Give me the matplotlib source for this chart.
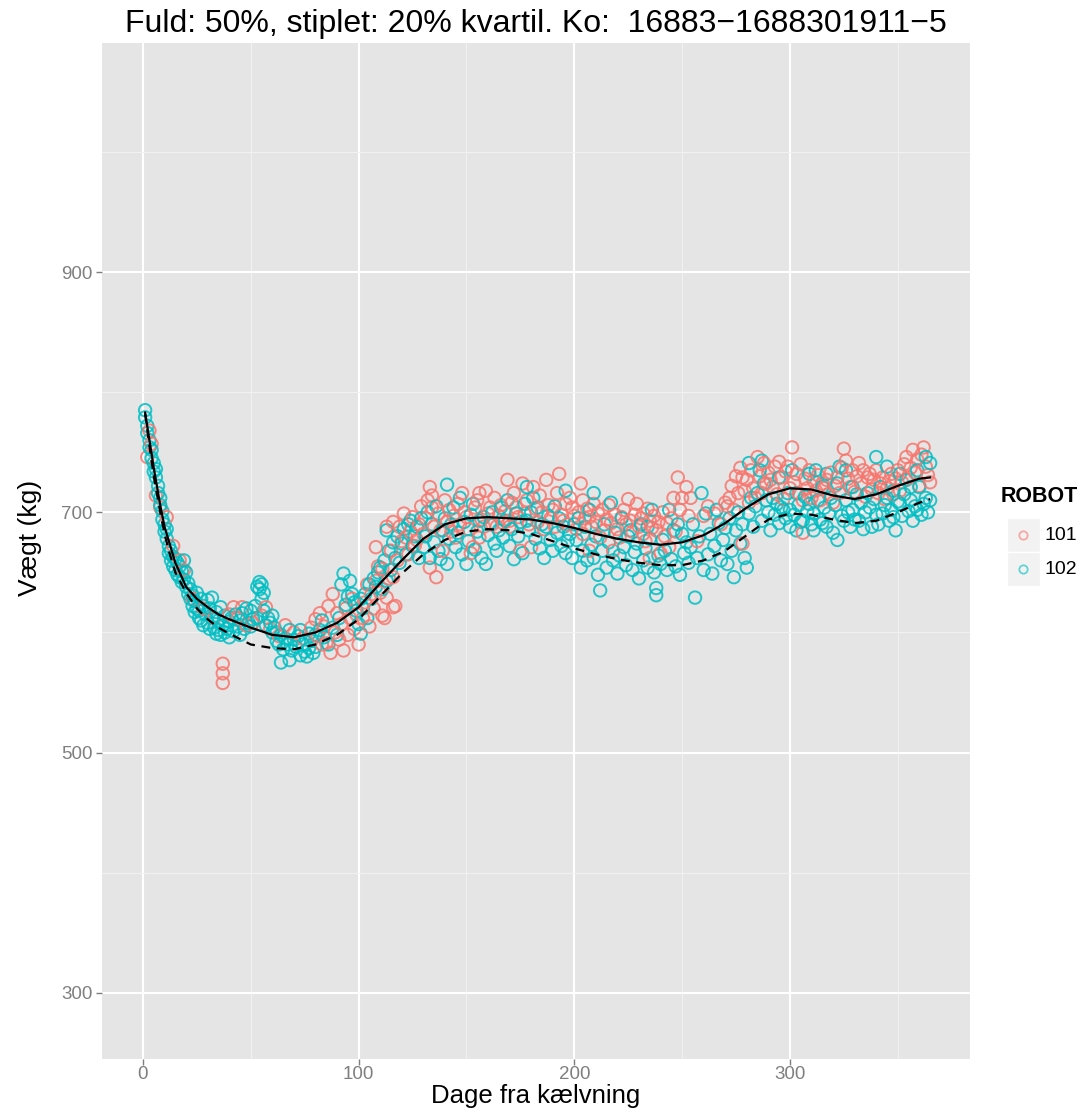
import numpy as np
import matplotlib
matplotlib.use("Agg")
import matplotlib.pyplot as plt
from matplotlib.patches import Rectangle
from matplotlib.lines import Line2D

plt.rcParams['font.family'] = ['Liberation Sans', 'DejaVu Sans']

# weighings per robot: (days from calving, weight kg)
robot101 = [
    (2, 746), (3, 768), (4, 757), (6, 714), (8, 704), (11, 696), (14, 672), (17, 660), (19, 652),
    (23, 628), (28, 620), (33, 612), (37, 574), (37, 566), (37, 558), (40, 615), (42, 621), (44, 612),
    (46, 621), (48, 606), (51, 608), (55, 614), (57, 621), (59, 603),
    (63, 597), (66, 606), (70, 600), (74, 595), (78, 604), (80, 611), (81, 597), (82, 616), (83, 590),
    (84, 605), (85, 591), (86, 622), (87, 583), (88, 632), (89, 600), (90, 616), (91, 594), (92, 607),
    (93, 585), (94, 620), (95, 598), (96, 612), (97, 628), (98, 603), (99, 615), (100, 590),
    (102, 612), (103, 625), (104, 640), (105, 605), (106, 632), (107, 620), (108, 671), (108, 643),
    (109, 655), (110, 633), (111, 614), (111, 653), (112, 612), (113, 629), (113, 688), (114, 645),
    (115, 668), (116, 621), (116, 646), (116, 692), (117, 622), (118, 660), (119, 688), (120, 676),
    (121, 699), (122, 679), (123, 665), (124, 684), (125, 696), (126, 672), (127, 677), (128, 690),
    (129, 705), (130, 682),
    (131, 695), (132, 710), (133, 721), (133, 654), (134, 714), (134, 704), (135, 688), (136, 646),
    (137, 699), (138, 685), (139, 668), (140, 710), (141, 692), (142, 702), (143, 684), (144, 697),
    (145, 679), (146, 707), (147, 690), (148, 716), (149, 700), (150, 696), (151, 686), (152, 666),
    (153, 671), (154, 704), (155, 710), (156, 716), (156, 679), (157, 694), (158, 688), (159, 718),
    (160, 699), (161, 704), (162, 690), (163, 712), (164, 688), (165, 697), (166, 706), (167, 691),
    (168, 701), (169, 727), (170, 688), (170, 693), (171, 708), (172, 716), (173, 704), (174, 696),
    (175, 668), (176, 724), (177, 699), (178, 710), (179, 690), (180, 671), (181, 721), (182, 703),
    (183, 692), (184, 714), (185, 700), (186, 686), (187, 727), (188, 706), (189, 695), (190, 702),
    (191, 688), (192, 716), (193, 732), (194, 698), (195, 693), (196, 707), (197, 690), (198, 712),
    (199, 704), (200, 697),
    (201, 686), (202, 700), (203, 724), (204, 710), (204, 682), (205, 695), (206, 703), (207, 696),
    (207, 668), (208, 688), (209, 707), (210, 692), (211, 699), (212, 679), (213, 702), (214, 685),
    (215, 694), (216, 706), (217, 691), (218, 668), (219, 698), (220, 686), (221, 679), (222, 696),
    (223, 702), (224, 690), (225, 711), (226, 693), (227, 684), (228, 698), (229, 707), (230, 688),
    (231, 695), (232, 699), (232, 682), (233, 676), (234, 703), (235, 693), (235, 662), (236, 687),
    (237, 697), (238, 685), (239, 692), (240, 666), (241, 700), (242, 680), (243, 691), (244, 671),
    (245, 695), (246, 712), (247, 684), (248, 729), (249, 702), (250, 712), (252, 721), (253, 697),
    (254, 712), (257, 676), (260, 697), (262, 705), (265, 699), (268, 690), (270, 708),
    (271, 705), (272, 712), (273, 722), (274, 702), (275, 730), (276, 716), (277, 737), (278, 729),
    (278, 674), (279, 718), (280, 727), (281, 708), (282, 735), (283, 720), (284, 712), (285, 746),
    (286, 730), (287, 716), (288, 741), (289, 724), (290, 733), (291, 727), (292, 721), (293, 738),
    (294, 715), (295, 742), (296, 729), (297, 711), (298, 734), (299, 738), (300, 720),
    (301, 754), (302, 725), (303, 732), (304, 716), (305, 740), (306, 710), (306, 683), (307, 728),
    (308, 720), (309, 735), (310, 712), (311, 726), (312, 718), (313, 731), (314, 710), (315, 724),
    (316, 720), (317, 727), (318, 715), (319, 733), (320, 708), (321, 722), (322, 729), (323, 716),
    (324, 737), (325, 753), (326, 743), (327, 728), (328, 721), (329, 735), (330, 717), (331, 730),
    (332, 741), (333, 724), (334, 735), (335, 713), (336, 729), (337, 732), (338, 719), (339, 727),
    (340, 735), (341, 716), (342, 724), (343, 729), (344, 711), (345, 720), (346, 726), (347, 732),
    (348, 715), (349, 728), (350, 735), (351, 718), (352, 725), (353, 740), (354, 746), (355, 729),
    (356, 737), (357, 752), (358, 733), (359, 744), (360, 722), (361, 748), (362, 754), (363, 738),
    (364, 731), (365, 725),
]

robot102 = [
    (1, 785), (1, 779), (2, 772), (2, 766), (3, 760), (3, 754), (4, 752), (4, 745), (5, 741), (5, 734),
    (6, 729), (6, 736), (7, 722), (7, 716), (8, 712), (8, 706), (9, 701), (9, 694), (10, 690), (10, 684),
    (11, 686), (11, 678), (12, 672), (12, 666), (13, 668), (13, 660), (14, 663), (14, 655), (15, 661),
    (15, 652), (16, 658), (16, 648), (17, 655), (17, 646), (18, 651), (18, 642), (19, 660), (19, 644),
    (20, 650), (20, 638),
    (21, 641), (21, 632), (22, 636), (22, 628), (23, 631), (23, 622), (24, 626), (24, 617), (25, 633),
    (25, 620), (26, 618), (26, 612), (27, 628), (27, 610), (28, 622), (28, 606), (29, 615), (30, 627),
    (30, 608), (31, 620), (31, 603), (32, 629), (32, 612), (33, 604), (34, 617), (34, 599), (35, 610),
    (35, 602), (36, 621), (36, 598), (37, 606), (38, 614), (38, 600), (39, 603), (40, 596), (40, 609),
    (41, 612), (42, 601), (43, 615), (44, 605), (45, 610), (45, 598), (46, 616), (47, 603), (48, 620),
    (49, 608), (50, 618), (50, 605),
    (51, 611), (52, 622), (53, 638), (53, 612), (54, 642), (54, 636), (55, 640), (55, 628), (56, 633),
    (56, 618), (57, 606), (58, 612), (59, 608), (60, 600), (60, 614),
    (61, 604), (62, 600), (62, 593), (63, 590), (64, 575), (64, 598), (65, 586), (66, 595), (67, 590),
    (68, 577), (68, 602), (69, 585), (70, 594), (71, 588), (72, 597), (73, 602), (73, 581), (74, 590),
    (75, 584), (76, 580), (77, 599), (77, 587), (78, 593), (79, 583), (80, 598), (80, 588),
    (82, 602), (83, 610), (84, 596), (86, 590), (88, 604), (90, 598), (91, 612), (92, 640), (93, 649),
    (94, 623), (95, 630), (96, 643), (97, 632), (98, 625), (99, 618), (100, 607), (101, 599), (101, 628),
    (102, 620), (103, 632), (104, 612), (105, 640), (106, 628), (107, 645), (108, 638), (109, 650),
    (110, 654), (111, 636), (112, 660), (113, 643), (113, 685), (114, 668), (115, 652), (116, 675),
    (117, 662), (118, 680), (119, 658), (120, 674), (121, 686), (122, 665), (123, 690), (124, 693),
    (125, 672), (126, 680), (127, 688), (128, 662), (129, 695), (130, 671),
    (131, 680), (132, 700), (133, 662), (134, 690), (135, 675), (136, 705), (137, 668), (138, 661),
    (139, 685), (140, 695), (141, 657), (141, 723), (142, 678), (143, 690), (144, 704), (145, 671),
    (146, 683), (147, 712), (148, 665), (149, 692), (150, 657), (151, 676), (152, 698), (153, 707),
    (154, 669), (155, 684), (156, 693), (157, 662), (158, 696), (159, 657), (160, 681), (161, 690),
    (162, 700), (163, 674), (164, 668), (165, 685), (166, 704), (167, 679), (168, 693), (169, 710),
    (170, 672), (171, 686), (172, 661), (173, 699), (174, 680), (175, 692), (176, 666), (177, 707),
    (178, 721), (178, 693), (179, 685), (180, 700), (181, 712), (182, 678), (183, 704), (184, 670),
    (185, 690), (186, 662), (187, 688), (188, 697), (189, 677), (190, 668), (191, 705), (192, 683),
    (193, 695), (194, 672), (195, 688), (196, 718), (196, 666), (197, 676), (198, 682), (199, 662),
    (200, 690),
    (201, 677), (202, 695), (203, 654), (204, 668), (205, 688), (206, 660), (207, 702), (208, 673),
    (209, 716), (209, 662), (210, 680), (211, 648), (212, 635), (213, 668), (214, 690), (215, 654),
    (216, 675), (217, 708), (218, 660), (219, 683), (220, 649), (221, 664), (222, 695), (223, 671),
    (224, 656), (225, 680), (226, 685), (227, 652), (228, 667), (229, 674), (230, 645), (231, 690),
    (232, 660), (233, 670), (234, 654), (234, 688), (235, 678), (236, 702), (237, 650), (238, 637),
    (238, 631), (239, 664), (240, 657),
    (241, 677), (242, 668), (243, 652), (244, 702), (245, 661), (246, 685), (247, 655), (248, 690),
    (249, 648), (250, 682), (251, 666), (252, 675), (253, 658), (254, 671), (255, 690), (256, 629),
    (257, 662), (258, 680), (259, 716), (260, 652), (261, 699), (262, 665), (263, 682), (264, 649),
    (265, 672), (266, 702), (267, 691), (268, 660), (269, 677), (270, 687), (271, 657), (272, 695),
    (273, 668), (274, 646), (275, 685), (276, 700), (277, 674), (278, 690), (279, 662), (280, 654),
    (281, 699), (281, 741), (282, 712), (283, 688), (284, 705), (285, 716), (286, 735), (287, 743),
    (287, 693), (288, 724), (289, 710), (290, 700),
    (291, 685), (292, 712), (293, 698), (294, 707), (295, 729), (295, 691), (296, 704), (297, 702),
    (298, 695), (299, 716), (300, 688), (300, 702), (301, 735), (302, 698), (303, 716), (303, 685),
    (304, 706), (305, 692), (306, 693), (307, 713), (308, 701), (309, 707), (309, 732), (310, 690),
    (311, 699), (311, 685), (312, 735), (313, 710), (314, 694), (315, 721), (315, 691), (316, 704),
    (317, 732), (317, 688), (318, 699), (319, 712), (320, 683), (321, 706), (322, 724), (322, 677),
    (323, 738), (324, 697), (325, 693), (326, 710), (326, 735), (327, 700), (328, 688), (329, 721),
    (329, 702), (330, 694), (331, 715), (332, 693), (333, 708), (334, 686), (335, 700), (336, 716),
    (337, 704), (338, 688), (339, 711), (340, 746), (340, 698), (341, 690), (342, 721), (343, 699),
    (344, 706), (345, 738), (345, 712), (346, 693), (347, 702), (348, 718), (348, 696), (349, 685),
    (350, 709), (351, 732), (351, 707), (352, 697), (353, 715), (354, 727), (355, 701), (356, 710),
    (356, 721), (357, 693), (358, 705), (359, 735), (359, 702), (360, 721), (361, 698), (362, 707),
    (363, 746), (363, 712), (364, 700), (365, 741), (365, 710),
]

# fitted quantile curves
curve_day = [1, 3, 5, 8, 10, 12, 15, 20, 25, 30, 35, 40, 50, 60, 70, 80, 90, 100, 110, 120, 130,
             140, 150, 160, 170, 180, 190, 200, 210, 220, 230, 240, 250, 260, 270, 280, 290, 300,
             310, 320, 330, 340, 350, 360, 365]
q50 = [783, 760, 737, 706, 688, 676, 658, 638, 628, 621, 615, 611, 604, 598, 596, 600, 608, 621,
       641, 660, 678, 690, 695, 696, 695, 694, 691, 687, 682, 678, 675, 673, 675, 681, 691, 704,
       715, 720, 719, 714, 711, 715, 722, 728, 729]
q20 = [782, 755, 730, 700, 682, 668, 650, 633, 620, 611, 604, 599, 590, 587, 586, 590, 598, 611,
       630, 649, 665, 677, 684, 686, 685, 682, 676, 670, 665, 661, 658, 656, 656, 660, 668, 681,
       694, 699, 698, 694, 691, 693, 700, 708, 711]

robot_names = ['101', '102']
robot_colors = ['#F8766D', '#00BFC4']

W, H = 1087, 1108
fig = plt.figure(figsize=(W / 100, H / 100), dpi=100)
ax = fig.add_axes([102 / W, 1 - 1059 / H, (970 - 102) / W, (1059 - 43) / H])
ax.set_facecolor('#E5E5E5')
for s in ax.spines.values():
    s.set_visible(False)

# mix points in day order like ggplot draws them
pts = [(d, k, robot_colors[0]) for d, k in robot101] + [(d, k, robot_colors[1]) for d, k in robot102]
pts.sort(key=lambda p: p[0])
ax.scatter([p[0] for p in pts], [p[1] for p in pts], s=80, facecolors='none',
           edgecolors=[p[2] for p in pts], linewidths=1.4, alpha=0.85, zorder=3)

ax.plot(curve_day, q50, color='black', lw=1.6, zorder=4)
ax.plot(curve_day, q20, color='black', lw=1.6, ls=(0, (4, 3)), zorder=4)

ax.set_xlim(-19, 383.5)
ax.set_ylim(245, 1090.6)
ax.set_xticks([0, 100, 200, 300])
ax.set_xticks([50, 150, 250, 350], minor=True)
ax.set_yticks([300, 500, 700, 900])
ax.set_yticks([400, 600, 800, 1000], minor=True)
ax.grid(which='major', color='white', lw=1.5, zorder=0)
ax.grid(which='minor', color='#F2F2F2', lw=0.7, zorder=0)
ax.set_axisbelow(True)
ax.tick_params(which='major', length=4, width=1, color='#7F7F7F', labelcolor='#7F7F7F',
               labelsize=13.5, pad=3)
ax.tick_params(axis='x', which='major', pad=1)
ax.tick_params(which='minor', length=0)

fig.text(536 / W, 1 - 1103 / H, 'Dage fra kælvning', fontsize=18.5, ha='center', va='baseline')
fig.text(30 / W, 1 - 538 / H, 'Vægt (kg)', fontsize=19, ha='center', va='center', rotation=90)
ax.set_title('Fuld: 50%, stiplet: 20% kvartil. Ko:  16883\u22121688301911\u22125', fontsize=23, pad=8)

# legend
fig.text(1001 / W, 1 - 497 / H, 'ROBOT', fontsize=15.5, fontweight='bold', va='center', ha='left')
for i, (name, col) in enumerate(zip(robot_names, robot_colors)):
    yc = 535 + i * 34
    fig.add_artist(Rectangle((1007 / W, 1 - (yc + 17) / H), 33 / W, 34 / H, transform=fig.transFigure,
                             facecolor='#F2F2F2', edgecolor='white', lw=1))
    fig.add_artist(Line2D([1023.5 / W], [1 - yc / H], transform=fig.transFigure, marker='o',
                          markersize=6, markerfacecolor='none', markeredgecolor=col, mew=1.3, alpha=0.6))
    fig.text(1044 / W, 1 - yc / H, name, fontsize=14, va='center', ha='left')

fig.savefig('out.png', dpi=100)
